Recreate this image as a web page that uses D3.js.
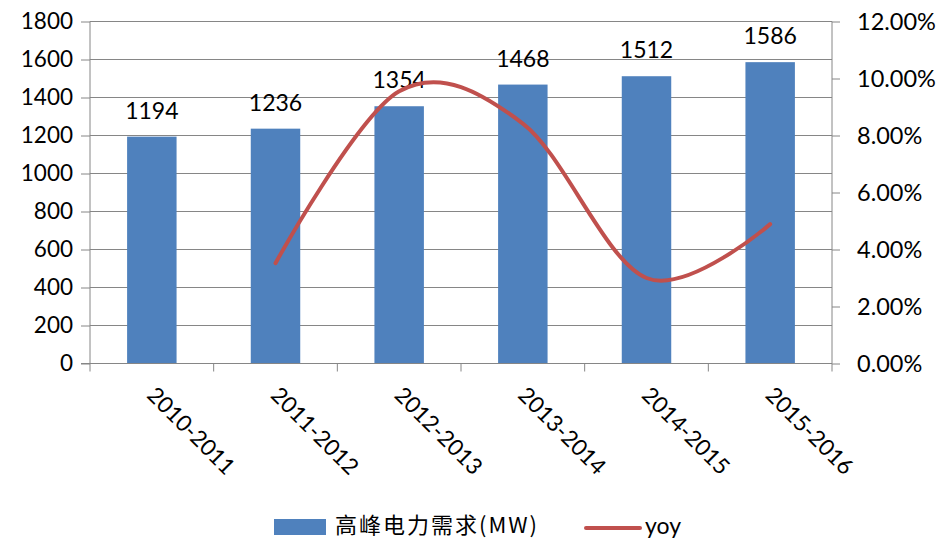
<!doctype html>
<html lang="zh">
<head>
<meta charset="utf-8">
<title>高峰电力需求</title>
<script src="https://cdn.jsdelivr.net/npm/d3@7/dist/d3.min.js"></script>
<style>
  html, body { margin: 0; padding: 0; background: #fff; }
  svg { display: block; }
  text { font-family: Lato, "Noto Sans", sans-serif; fill: #000; }
</style>
</head>
<body>
<div id="chart"></div>
<script>
// data
const categories = ['2010-2011', '2011-2012', '2012-2013', '2013-2014', '2014-2015', '2015-2016'];
const demand = [1194, 1236, 1354, 1468, 1512, 1586];
const yoy = [null, 0.0352, 0.0955, 0.0842, 0.0300, 0.0489];
const leftTicks = [0, 200, 400, 600, 800, 1000, 1200, 1400, 1600, 1800];
const rightTicks = [0, 0.02, 0.04, 0.06, 0.08, 0.10, 0.12];

const W = 950, H = 540;
const plot = {left: 90, right: 832, top: 21.5, bottom: 363.5};

const svg = d3.select('#chart').append('svg')
  .attr('width', W)
  .attr('height', H);

const x = d3.scaleBand()
  .domain(categories)
  .range([plot.left, plot.right]);
const y = d3.scaleLinear()
  .domain([0, 1800])
  .range([plot.bottom, plot.top]);
const y2 = d3.scaleLinear()
  .domain([0, 0.12])
  .range([plot.bottom, plot.top]);

const gray = '#868686';

// gridlines
svg.append('g')
  .selectAll('line')
  .data(leftTicks.slice(1))
  .enter()
  .append('line')
  .attr('x1', plot.left)
  .attr('x2', plot.right)
  .attr('y1', d => y(d))
  .attr('y2', d => y(d))
  .attr('stroke', gray)
  .attr('stroke-width', 1);

// bars
const barW = x.bandwidth() * 0.4;
svg.append('g')
  .selectAll('rect')
  .data(demand)
  .enter()
  .append('rect')
  .attr('x', (d, i) => x(categories[i]) + x.bandwidth() / 2 - barW / 2)
  .attr('y', d => y(d))
  .attr('width', barW)
  .attr('height', d => plot.bottom - y(d))
  .attr('fill', '#4F81BD');

// value labels
svg.append('g')
  .selectAll('text')
  .data(demand)
  .enter()
  .append('text')
  .attr('x', (d, i) => x(categories[i]) + x.bandwidth() / 2)
  .attr('y', d => y(d) - 18)
  .attr('text-anchor', 'middle')
  .style('font-size', '23px')
  .text(d => d);

// left axis
const axL = svg.append('g')
  .attr('transform', 'translate(' + plot.left + ',0)')
  .call(d3.axisLeft(y).tickValues(leftTicks).tickSize(9).tickPadding(8).tickFormat(d3.format('d')));
axL.select('.domain').attr('stroke', gray).attr('d', 'M0,' + plot.top + 'V' + plot.bottom);
axL.selectAll('.tick line').attr('stroke', gray);
axL.selectAll('.tick text').style('font-size', '22.5px').style('font-family', 'Lato, sans-serif').attr('fill', '#000');

// right axis
const axR = svg.append('g')
  .attr('transform', 'translate(' + plot.right + ',0)')
  .call(d3.axisRight(y2).tickValues(rightTicks).tickSize(8).tickPadding(17).tickFormat(d3.format('.2%')));
axR.select('.domain').attr('stroke', gray).attr('d', 'M0,' + plot.top + 'V' + plot.bottom);
axR.selectAll('.tick line').attr('stroke', gray);
axR.selectAll('.tick text').style('font-size', '23.5px').style('font-family', 'Lato, sans-serif').attr('fill', '#000');

// bottom axis
const axB = svg.append('g')
  .attr('transform', 'translate(0,' + plot.bottom + ')');
axB.append('line')
  .attr('x1', plot.left - 9).attr('x2', plot.right)
  .attr('stroke', gray);
axB.selectAll('.cat-tick')
  .data(d3.range(categories.length + 1))
  .enter()
  .append('line')
  .attr('x1', i => plot.left + i * x.step())
  .attr('x2', i => plot.left + i * x.step())
  .attr('y1', 0)
  .attr('y2', 8)
  .attr('stroke', gray);
axB.selectAll('.cat-label')
  .data(categories)
  .enter()
  .append('text')
  .attr('transform', d => 'translate(' + (x(d) + x.bandwidth() / 2 - 6) + ',' + 33 + ') rotate(45)')
  .attr('text-anchor', 'start')
  .style('font-size', '22.5px')
  .text(d => d);

// yoy line
const pts = yoy.map((v, i) => ({c: categories[i], v: v})).filter(d => d.v !== null);
const line = d3.line()
  .x(d => x(d.c) + x.bandwidth() / 2)
  .y(d => y2(d.v))
  .curve(d3.curveCardinal.tension(0));
svg.append('path')
  .datum(pts)
  .attr('d', line)
  .attr('fill', 'none')
  .attr('stroke', '#C0504D')
  .attr('stroke-width', 4)
  .attr('stroke-linecap', 'round');

// legend
const leg = svg.append('g');
leg.append('rect')
  .attr('x', 274).attr('y', 519)
  .attr('width', 52).attr('height', 16)
  .attr('fill', '#4F81BD');
leg.append('text')
  .attr('x', 335).attr('y', 533)
  .style('font-size', '22px')
  .style('letter-spacing', '2px')
  .style('font-family', '"Noto Sans CJK SC", Lato, sans-serif')
  .text('高峰电力需求(MW)');
leg.append('line')
  .attr('x1', 586).attr('x2', 640)
  .attr('y1', 528).attr('y2', 528)
  .attr('stroke', '#C0504D')
  .attr('stroke-width', 4)
  .attr('stroke-linecap', 'round');
leg.append('text')
  .attr('x', 645).attr('y', 534)
  .style('font-size', '23px')
  .text('yoy');
</script>
</body>
</html>
